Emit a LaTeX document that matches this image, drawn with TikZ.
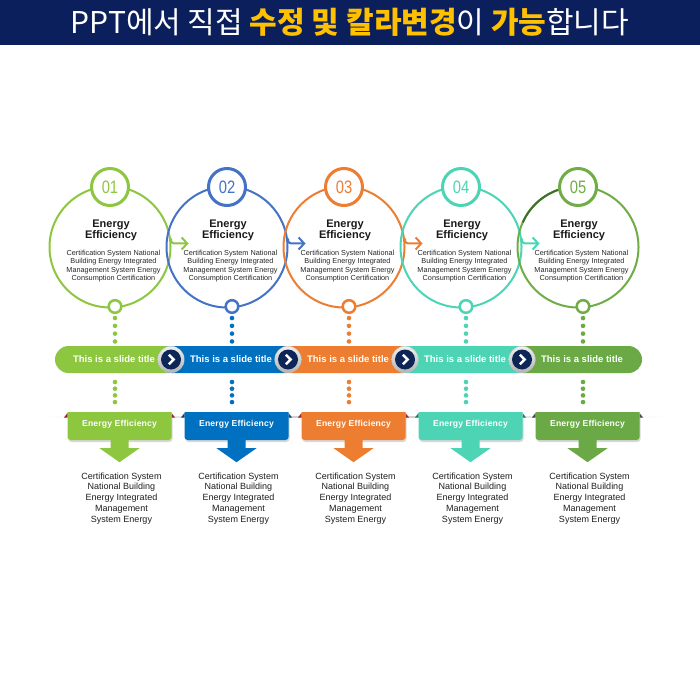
\documentclass[tikz,border=0pt]{standalone}
\usepackage{fontspec}
\setmainfont{Liberation Sans}
\newfontfamily\kr{Noto Sans CJK KR}
\usetikzlibrary{arrows.meta,calc,shadows}
\definecolor{navy}{HTML}{0B1F5C}
\definecolor{hdyel}{HTML}{FFC000}
\definecolor{cA}{HTML}{8DC63F}
\definecolor{cB}{HTML}{4472C4}
\definecolor{cC}{HTML}{ED7D31}
\definecolor{cD}{HTML}{4DD4B5}
\definecolor{cE}{HTML}{70AD47}
\definecolor{fA}{HTML}{8DC63F}
\definecolor{fB}{HTML}{0070C0}
\definecolor{fC}{HTML}{ED7D31}
\definecolor{fD}{HTML}{4DD4B5}
\definecolor{fE}{HTML}{6AA945}
\definecolor{kA}{HTML}{A81818}
\definecolor{kB}{HTML}{1F3864}
\definecolor{kC}{HTML}{B01C10}
\definecolor{kD}{HTML}{13806E}
\definecolor{kE}{HTML}{33502A}
\definecolor{dkgreen}{HTML}{3F6E2A}
\definecolor{chevnavy}{HTML}{0E2557}
\begin{document}
\begin{tikzpicture}[x=1pt,y=-1pt,
  bigcirc/.style={circle, draw, line width=2pt, minimum size=121pt, inner sep=0pt},
  numcirc/.style={circle, draw, fill=white, line width=3pt, minimum size=37pt, inner sep=0pt},
  smallcirc/.style={circle, draw, fill=white, line width=2.5pt, minimum size=12.6pt, inner sep=0pt},
  numtext/.style={inner sep=0pt, font=\fontsize{18}{18}\selectfont},
  headtext/.style={font=\bfseries\fontsize{11}{11.5}\selectfont, text=black!90, align=center, inner sep=0pt},
  bodytext/.style={font=\fontsize{7.3}{8.3}\selectfont, text=black!85, align=center, inner sep=0pt},
  dotline/.style={line width=4.6pt, line cap=round},
  hookarrow/.style={line width=2pt, -{Straight Barb[length=5.5pt,width=12pt]}},
  pillbox/.style={rectangle, rounded corners=13.5pt, minimum height=27pt, inner sep=0pt},
  pilltext/.style={text=white, inner sep=0pt, font=\bfseries\fontsize{9.5}{10}\selectfont},
  ring/.style={circle, minimum size=26.6pt, inner sep=0pt, top color=gray!12, bottom color=gray!60, draw=gray!45, line width=0.3pt},
  chevcore/.style={circle, minimum size=20pt, inner sep=0pt, fill=chevnavy},
  chevmark/.style={white, line width=2.6pt, line join=miter},
  boxshape/.style={rectangle, minimum width=104pt, minimum height=28pt, inner sep=0pt},
  boxtext/.style={text=white, inner sep=0pt, font=\bfseries\fontsize{8.6}{8.6}\selectfont\addfontfeature{LetterSpace=2}},
  lowtext/.style={font=\fontsize{9}{10.9}\selectfont, text=black!88, align=center, inner sep=0pt}
]
\useasboundingbox (0,0) rectangle (700,700);
\fill[white] (0,0) rectangle (700,700);
% header
\fill[navy] (0,0) rectangle (700,45);
\node[text=white, inner sep=0pt, font=\kr\fontsize{30}{30}\selectfont] (hd) at (350,22.5)
  {PPT에서 직접 {\bfseries\color{hdyel}수정 및 칼라변경}이 {\bfseries\color{hdyel}가능}합니다};

% circles
\foreach \i/\cx/\cc/\fc in {1/110/cA/fA, 2/227/cB/fB, 3/344/cC/fC, 4/461/cD/fD, 5/578/cE/fE}{
  \node[bigcirc, draw=\cc] (c\i) at (\cx,247) {};
}
\draw[dkgreen, line width=2pt] ($(c5)+(-108:60.5)$) arc[start angle=-108, end angle=-156, radius=60.5];
\foreach \i/\cc in {1/cA, 2/cB, 3/cC, 4/cD}{
  \draw[hookarrow, \cc] (c\i.8) .. controls +(0,5) and +(-5,0) .. ($(c\i.east)+(6,-3.5)$) -- ($(c\i.east)+(17,-3.5)$);
}
\foreach \i/\cx/\cc/\fc in {1/110/cA/fA, 2/227/cB/fB, 3/344/cC/fC, 4/461/cD/fD, 5/578/cE/fE}{
  \node[numcirc, draw=\cc] (n\i) at (\cx,187) {};
  \node[numtext, text=\cc] (nt\i) at (n\i) {\scalebox{0.82}[1]{0\i}};
  \node[smallcirc, draw=\cc] (b\i) at (\cx+5,306.5) {};
  \node[headtext] (h\i) at (\cx+1,230.5) {Energy\\Efficiency};
  \node[bodytext] (t\i) at (\cx+3.5,266) {Certification System National\\Building Energy Integrated\\Management System Energy\\Consumption Certification};
  \draw[dotline, \fc, dash pattern=on 0pt off 7.8pt] ($(b\i.south)+(0,4)$) -- ++(0,24);
  \draw[dotline, \fc, dash pattern=on 0pt off 6.7pt] ($(b\i)+(0,75.5)$) -- ++(0,20.3);
}

% pills
\foreach \i/\L/\R/\fc in {1/55/184/fA, 2/158/301/fB, 3/275/418/fC, 4/392/535/fD, 5/509/642/fE}{
  \pgfmathsetmacro{\pw}{\R-\L}
  \pgfmathsetmacro{\pc}{(\R+\L)/2}
  \node[pillbox, fill=\fc, minimum width=\pw pt] (p\i) at (\pc,359.5) {};
}
\foreach \i/\cx in {1/110, 2/227, 3/344, 4/461, 5/578}{
  \node[pilltext] (pt\i) at (\cx+4,359.5) {This is a slide title};
}
\foreach \i/\vx in {1/171, 2/288, 3/405, 4/522}{
  \node[ring] (v\i) at (\vx,359.5) {};
  \node[chevcore] (w\i) at (v\i) {};
  \draw[chevmark] ($(w\i)+(-2.2,-4.8)$) -- ($(w\i)+(2.6,0)$) -- ($(w\i)+(-2.2,4.8)$);
}

% baseline
\shade[left color=white, right color=gray!45] (40,416) rectangle (355,417.2);
\shade[left color=gray!45, right color=white] (355,416) rectangle (670,417.2);

% energy boxes
\foreach \i/\cx/\fc/\kc in {1/110/fA/kA, 2/227/fB/kB, 3/344/fC/kC, 4/461/fD/kD, 5/578/fE/kE}{
  \pgfmathsetmacro{\bx}{\cx+9.5}
  \fill[\kc] (\bx-52,413) -- (\bx-55.5,417.5) -- (\bx-52,417.5) -- cycle;
  \fill[\kc] (\bx+52,413) -- (\bx+55.5,417.5) -- (\bx+52,417.5) -- cycle;
  \path[fill=\fc, drop shadow={shadow xshift=1pt, shadow yshift=-2pt, opacity=0.3}]
    (\bx-52,412) -- (\bx+52,412) [rounded corners=3pt] -- (\bx+52,440) -- (\bx-52,440) [sharp corners] -- cycle;
  \node[boxshape] (e\i) at (\bx,426) {};
  \node[boxtext] (et\i) at (\bx,424.5) {Energy Efficiency};
  \fill[\fc] ($(e\i.south)+(-9,0)$) -- ++(0,8) -- ++(-11,0) -- ($(e\i.south)+(0,22)$)
    -- ($(e\i.south)+(20,8)$) -- ++(-11,0) -- ++(0,-8) -- cycle;
  \node[lowtext] (d\i) at (\bx+2,498.5) {Certification System\\National Building\\Energy Integrated\\Management\\System Energy};
}
\end{tikzpicture}
\end{document}
